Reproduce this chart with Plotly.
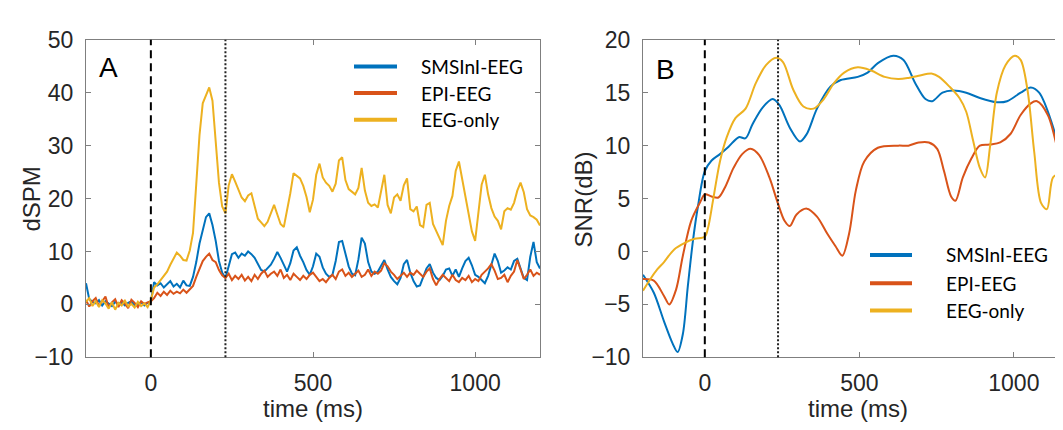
import plotly.graph_objects as go

W, H = 1063, 430

# ---------------- Panel A data (dSPM) ----------------
t_a = list(range(-200, 1201, 10))

smsini_a = [4.0, 1.0, 0.5, 0.2, 0.8, -0.2, 0.6, 0.1, -0.3, 0.5, 0.0, 0.4, -0.2, 0.3, 0.6, -0.1, 0.2, 0.4, -0.2, 0.3, 0.5,
            4.2, 3.6, 4.0, 3.2, 3.8, 4.4, 3.4, 3.9, 3.2, 4.5, 3.6, 3.5, 5.2, 8.0, 11.5, 14.0, 16.5, 17.2, 15.0, 12.0,
            8.2, 6.0, 5.0, 7.2, 9.5, 9.8, 8.8, 9.6, 9.2, 10.0, 9.5, 8.8, 7.6, 6.5, 6.2, 6.8, 7.5, 8.6, 9.9, 8.8,
            7.5, 6.2, 7.8, 10.2, 10.8, 9.2, 8.0, 6.5, 5.6, 7.2, 9.6, 9.0, 7.0, 5.8, 5.2, 5.6, 8.2, 11.8, 12.0, 9.5,
            7.2, 5.8, 5.5, 8.5, 12.6, 11.5, 8.0, 6.2, 5.8, 6.2, 7.2, 8.4, 6.6, 5.2, 4.4, 3.8, 5.0, 7.6, 8.4, 6.0,
            4.4, 3.4, 3.6, 5.2, 6.8, 7.6, 6.0, 5.0, 4.6, 5.4, 6.6, 6.8, 5.4, 6.6, 5.2, 6.8, 8.2, 8.8, 7.4, 5.6,
            5.2, 4.6, 4.0, 5.4, 7.4, 9.6, 8.2, 6.0, 6.4, 7.0, 6.6, 8.2, 8.6, 6.6, 5.0, 4.6, 9.0, 11.8, 8.0, 6.8]

epi_a = [0.8, -0.4, 0.6, 1.2, -0.3, 0.5, 1.5, -0.6, 0.4, 1.0, -0.5, 0.8, 0.2, -0.7, 0.9, 0.3, -0.5, 0.6, 0.1, 0.4, 0.6,
         1.2, 2.2, 1.6, 2.4, 1.8, 2.6, 2.0, 2.4, 2.1, 2.8, 2.2, 2.9, 3.5, 5.2, 6.8, 8.2, 9.0, 9.6, 8.4, 8.0,
         6.5, 5.5, 5.0, 5.8, 4.6, 5.4, 4.8, 5.6, 4.5, 5.2, 4.4, 5.6, 4.8, 5.8, 6.4, 5.2, 5.8, 6.2, 5.4, 6.6,
         5.0, 5.6, 4.6, 5.8, 5.2, 4.6, 5.4, 4.8, 5.6, 6.0, 5.2, 4.4, 4.8, 4.2, 5.0, 5.6, 4.8, 6.2, 6.6, 5.4,
         6.0, 5.2, 5.8, 6.4, 5.2, 5.6, 6.6, 5.4, 6.2, 5.8, 6.4, 7.8, 7.2, 6.2, 5.6, 4.8, 5.4, 6.0, 5.2, 6.0,
         5.6, 6.4, 5.8, 5.2, 6.2, 6.8, 4.8, 3.6, 4.8, 5.6, 5.0, 4.4, 5.6, 4.6, 4.2, 5.0, 4.6, 5.4, 4.2, 4.8,
         4.4, 5.6, 6.2, 6.8, 7.6, 6.4, 4.8, 5.0, 5.6, 4.2, 5.4, 6.2, 8.4, 6.4, 4.8, 5.6, 6.6, 5.4, 6.0, 5.6]

eegonly_a = [0.5, 1.2, -0.3, 0.6, -0.5, 0.8, 0.2, -0.8, 0.4, -1.0, 0.3, -0.2, 0.7, -0.4, 0.1, -0.6, 0.5, -0.3, 0.2, -0.5, 0.8,
             3.2, 3.8, 4.6, 5.5, 6.2, 7.5, 8.6, 9.8, 9.2, 8.4, 8.3, 10.2, 13.5, 22.0, 32.0, 38.0, 39.5, 41.0, 38.5, 31.0,
             23.0, 18.5, 17.2, 22.5, 24.6, 23.2, 21.5, 20.2, 19.5, 20.6, 21.0, 18.5, 16.2, 15.5, 14.8, 15.6, 17.2, 18.8, 17.0, 15.2,
             14.6, 17.5, 21.0, 24.8, 24.2, 23.8, 22.4, 20.3, 17.4, 19.8, 24.5, 26.6, 24.0, 23.0, 22.4, 21.3, 22.8, 27.2, 27.8, 23.5,
             21.8, 21.3, 20.8, 22.0, 25.8, 21.5, 19.2, 18.6, 18.9, 18.3, 21.5, 24.5, 18.8, 17.2, 20.2, 20.8, 19.6, 22.5, 23.8, 18.0,
             17.6, 18.5, 15.0, 14.6, 18.8, 19.2, 15.2, 13.8, 12.4, 11.2, 15.8, 18.6, 20.5, 25.2, 27.0, 23.8, 20.4, 17.2, 13.8, 12.0,
             17.5, 22.6, 24.5, 20.8, 18.2, 16.6, 15.8, 14.2, 17.6, 18.2, 17.9, 19.2, 21.5, 23.0, 21.2, 18.0, 16.8, 16.5, 16.0, 14.9]

# ---------------- Panel B data (SNR dB) ----------------
t_b_smsini = [-200, -165, -132, -104, -88, -71, -55, -38, -22, 0, 22, 49, 77, 110, 132, 154, 187, 220, 242, 275,
              308, 330, 363, 407, 440, 495, 527, 560, 610, 643, 681, 714, 736, 769, 802, 846, 890, 945, 978, 1022,
              1055, 1082, 1121, 1154, 1176, 1200]
smsini_b = [-2.2, -3.9, -6.6, -8.7, -9.5, -7.8, -3.3, 1.1, 4.3, 7.6, 8.6, 9.2, 9.9, 10.8, 10.7, 12.0, 13.6, 14.4, 13.8, 11.7,
            10.4, 11.1, 13.5, 15.6, 16.2, 16.5, 16.9, 17.8, 18.5, 18.1, 15.9, 14.4, 14.2, 15.0, 15.2, 15.0, 14.5, 14.1, 14.2, 15.0,
            15.5, 15.0, 12.3, 8.5, 4.0, -2.0]

t_b_epi = [-200, -165, -132, -115, -93, -71, -44, -16, 0, 22, 44, 66, 93, 121, 148, 176, 209, 236, 258, 275,
           297, 330, 363, 396, 423, 445, 467, 489, 516, 560, 626, 659, 692, 725, 752, 774, 797, 811, 835, 863,
           890, 923, 956, 989, 1022, 1055, 1075, 1110, 1143, 1170, 1200]
epi_b = [-2.6, -2.75, -4.2, -5.0, -3.6, -0.4, 2.9, 4.6, 5.4, 5.2, 5.1, 6.1, 7.9, 9.2, 9.7, 9.1, 7.0, 4.6, 2.9, 2.4,
         3.5, 4.05, 3.3, 1.7, 0.5, -0.4, 1.7, 5.8, 8.5, 9.8, 10.0, 10.0, 10.3, 10.3, 9.7, 7.6, 5.2, 4.8, 7.0, 8.8,
         10.0, 10.1, 10.3, 11.1, 12.9, 14.0, 14.2, 12.9, 9.4, 5.2, -2.5]

t_b_eeg = [-200, -176, -154, -132, -99, -66, -33, 0, 11, 27, 49, 71, 99, 132, 165, 198, 231, 253, 286, 319,
           352, 385, 418, 451, 495, 538, 582, 626, 659, 692, 736, 758, 791, 824, 846, 868, 890, 907, 923, 945,
           973, 1003, 1022, 1044, 1066, 1088, 1107, 1127, 1150, 1165, 1182, 1200]
eegonly_b = [-3.7, -2.6, -1.7, -1.0, 0.2, 0.8, 1.2, 1.4, 2.3, 4.9, 8.5, 10.8, 12.6, 13.5, 15.9, 17.6, 18.3, 17.9, 15.3, 13.7,
             13.5, 14.4, 15.9, 16.9, 17.4, 17.1, 16.5, 16.3, 16.4, 16.6, 16.8, 16.5, 15.6, 14.5, 13.2, 10.5, 7.9, 7.0, 9.9, 15.0,
             17.6, 18.5, 18.1, 15.3, 9.4, 4.6, 4.0, 7.0, 7.3, 5.0, 1.1, -3.0]

series_names = ["SMSInI-EEG", "EPI-EEG", "EEG-only"]
colors = ["#0072BD", "#D95319", "#EDB120"]

onset_ms = 0
offset_a_ms = 230
offset_b_ms = 237

AX = "#7f7f7f"
TXT = "#262626"
FONT = "Liberation Sans, Arial, sans-serif"
LEGFONT = "Lato, Open Sans, sans-serif"

fig = go.Figure()
for name, y, c in zip(series_names, [smsini_a, epi_a, eegonly_a], colors):
    fig.add_trace(go.Scatter(x=t_a, y=y, mode="lines", name=name, line=dict(color=c, width=2),
                             xaxis="x", yaxis="y", showlegend=False))
for name, tx, y, c in zip(series_names, [t_b_smsini, t_b_epi, t_b_eeg], [smsini_b, epi_b, eegonly_b], colors):
    fig.add_trace(go.Scatter(x=tx, y=y, mode="lines", name=name, line=dict(color=c, width=2, shape="spline", smoothing=0.9),
                             xaxis="x2", yaxis="y2", showlegend=False))

def px(x):
    return x / W

def py(y):
    return 1 - y / H

common_x = dict(showline=True, linecolor=AX, linewidth=1, ticks="inside", ticklen=5, tickcolor=AX,
                showgrid=False, zeroline=False, tickfont=dict(family=FONT, size=23, color=TXT),
                tickvals=[0, 500, 1000], ticklabelstandoff=5)
common_y = dict(showline=True, linecolor=AX, linewidth=1, ticks="inside", ticklen=5, tickcolor=AX,
                showgrid=False, zeroline=False, tickfont=dict(family=FONT, size=23, color=TXT),
                ticklabelstandoff=7)

fig.update_layout(
    width=W, height=H, margin=dict(l=0, r=0, t=0, b=0),
    paper_bgcolor="white", plot_bgcolor="white", showlegend=False,
    xaxis=dict(domain=[px(78), px(532)], range=[-200, 1200], anchor="y", mirror="ticks", **common_x),
    yaxis=dict(domain=[py(358), py(20)], range=[-10, 50], dtick=10, anchor="x", mirror="ticks", **common_y),
    xaxis2=dict(domain=[px(635), 1.0], range=[-200, 1185], anchor="y2", mirror="ticks", **common_x),
    yaxis2=dict(domain=[py(358), py(20)], range=[-10, 20], dtick=5, anchor="x2", mirror=False, **common_y),
)

shapes = []
for xr, yr, xv in [("x", "y domain", onset_ms), ("x2", "y2 domain", onset_ms)]:
    shapes.append(dict(type="line", xref=xr, yref=yr, x0=xv, x1=xv, y0=0, y1=1,
                       line=dict(color="black", width=2, dash="8px,5px")))
for xr, yr, xv in [("x", "y domain", offset_a_ms), ("x2", "y2 domain", offset_b_ms)]:
    shapes.append(dict(type="line", xref=xr, yref=yr, x0=xv, x1=xv, y0=0, y1=1,
                       line=dict(color="#222222", width=2, dash="2px,2px")))

annotations = []
# legends (drawn manually)
for (lx0, lx1, tx, ys) in [(346, 389, 411, [48.3, 76.7, 105]), (862, 904, 936, [249, 279, 308])]:
    for name, c, yy in zip(series_names, colors, ys):
        shapes.append(dict(type="line", xref="paper", yref="paper", x0=px(lx0), x1=px(lx1), y0=py(yy), y1=py(yy),
                           line=dict(color=c, width=4)))
        annotations.append(dict(xref="paper", yref="paper", x=px(tx), y=py(yy), text=name, showarrow=False,
                                xanchor="left", yanchor="middle", font=dict(family=LEGFONT, size=19, color="black")))

annotations += [
    dict(xref="paper", yref="paper", x=px(100), y=py(50), text="A", showarrow=False, xanchor="center", yanchor="middle",
         font=dict(family=FONT, size=28, color="black")),
    dict(xref="paper", yref="paper", x=px(657), y=py(51.5), text="B", showarrow=False, xanchor="center", yanchor="middle",
         font=dict(family=FONT, size=28, color="black")),
    dict(xref="paper", yref="paper", x=px(24), y=py(190), text="dSPM", textangle=-90, showarrow=False,
         xanchor="center", yanchor="middle", font=dict(family=FONT, size=24, color=TXT)),
    dict(xref="paper", yref="paper", x=px(576), y=py(190), text="SNR(dB)", textangle=-90, showarrow=False,
         xanchor="center", yanchor="middle", font=dict(family=FONT, size=24, color=TXT)),
    dict(xref="paper", yref="paper", x=px(305), y=py(412), text="time (ms)", showarrow=False,
         xanchor="center", yanchor="middle", font=dict(family=FONT, size=24, color=TXT)),
    dict(xref="paper", yref="paper", x=px(850), y=py(412), text="time (ms)", showarrow=False,
         xanchor="center", yanchor="middle", font=dict(family=FONT, size=24, color=TXT)),
]

fig.update_layout(shapes=shapes, annotations=annotations)
fig.write_html("out.html")
